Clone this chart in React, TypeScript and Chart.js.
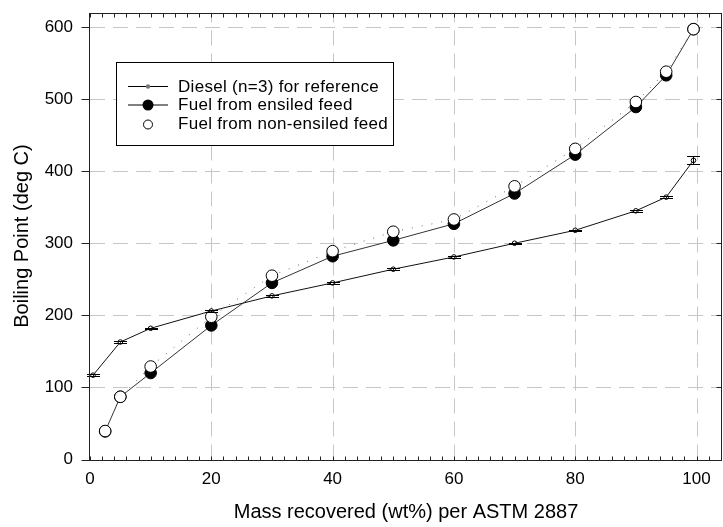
import React, { useEffect, useRef } from 'react';
import { Chart, registerables } from 'chart.js';

Chart.register(...registerables);

// ---- Data ----
const xDiesel = [0.5, 5, 10, 20, 30, 40, 50, 60, 70, 80, 90, 95, 99.5];
const yDiesel = [117, 163, 182, 206, 227, 245, 264, 281, 300, 318, 345, 364, 415];
const errDiesel = [1, 1, 1, 1.5, 1, 1, 1, 1, 1, 1, 1, 1, 5.5];

const xFuel = [2.5, 5, 10, 20, 30, 40, 50, 60, 70, 80, 90, 95, 99.5];
const yEnsiled = [39, 87, 120, 186, 245, 282, 304, 327, 369, 423, 489, 533, 597];
const yNonEnsiled = [39.5, 87, 129, 198, 255, 289, 316, 333, 379, 431, 496, 538, 597];

const xTicks = [0, 20, 40, 60, 80, 100];
const yTicks = [0, 100, 200, 300, 400, 500, 600];
const xMinorStep = 2;

const seriesNames = [
  'Diesel (n=3) for reference',
  'Fuel from ensiled feed',
  'Fuel from non-ensiled feed',
];
const xTitle = 'Mass recovered (wt%) per ASTM 2887';
const yTitle = 'Boiling Point (deg C)';

const FONT = '"Liberation Sans", Arial, sans-serif';

const toPoints = (xs: number[], ys: number[]) => xs.map((x, i) => ({ x, y: ys[i] }));

const gridFramePlugin = {
  id: 'gridFrame',
  beforeDatasetsDraw(chart: any) {
    const { ctx, chartArea: a, scales } = chart;
    const x = scales.x;
    const y = scales.y;
    ctx.save();
    ctx.strokeStyle = '#c6c6c6';
    ctx.lineWidth = 1;
    ctx.setLineDash([15, 8]);
    for (const v of xTicks) {
      if (v <= 0) continue;
      const px = Math.round(x.getPixelForValue(v)) + 0.5;
      ctx.beginPath();
      ctx.moveTo(px, a.bottom);
      ctx.lineTo(px, a.top);
      ctx.stroke();
    }
    for (const v of yTicks) {
      if (v <= 0) continue;
      const py = Math.round(y.getPixelForValue(v)) + 0.5;
      ctx.beginPath();
      ctx.moveTo(a.left, py);
      ctx.lineTo(a.right, py);
      ctx.stroke();
    }
    ctx.restore();
  },
  afterDatasetsDraw(chart: any) {
    const { ctx, chartArea: a, scales } = chart;
    const x = scales.x;
    const y = scales.y;
    const L = Math.round(a.left) - 0.5;
    const R = Math.round(a.right) - 0.5;
    const T = Math.round(a.top) + 0.5;
    const B = Math.round(a.bottom) + 0.5;
    ctx.save();
    ctx.strokeStyle = '#000';
    ctx.lineWidth = 1;
    ctx.setLineDash([]);
    // error bars for diesel
    const meta = chart.getDatasetMeta(0);
    meta.data.forEach((pt: any, i: number) => {
      const px = Math.round(pt.x) + 0.5;
      const yt = y.getPixelForValue(yDiesel[i] + errDiesel[i]);
      const yb = y.getPixelForValue(yDiesel[i] - errDiesel[i]);
      ctx.beginPath();
      ctx.moveTo(px, yt);
      ctx.lineTo(px, yb);
      ctx.moveTo(px - 6.5, Math.round(yt) + 0.5);
      ctx.lineTo(px + 6.5, Math.round(yt) + 0.5);
      ctx.moveTo(px - 6.5, Math.round(yb) + 0.5);
      ctx.lineTo(px + 6.5, Math.round(yb) + 0.5);
      ctx.stroke();
    });
    // frame
    ctx.strokeStyle = '#222';
    ctx.strokeRect(L, T, R - L, B - T);
    // minor ticks top & bottom
    ctx.beginPath();
    for (let v = 0; v <= x.max; v += xMinorStep) {
      const px = Math.round(x.getPixelForValue(v)) + 0.5;
      ctx.moveTo(px, B);
      ctx.lineTo(px, B - 4);
      ctx.moveTo(px, T);
      ctx.lineTo(px, T + 4);
    }
    // y major ticks: left outward, right inward
    for (const v of yTicks) {
      const py = Math.round(y.getPixelForValue(v)) + 0.5;
      ctx.moveTo(L - 8, py);
      ctx.lineTo(L, py);
      ctx.moveTo(R, py);
      ctx.lineTo(R - 5, py);
    }
    ctx.stroke();
    ctx.restore();
  },
};

const legendPlugin = {
  id: 'boxLegend',
  afterDraw(chart: any) {
    const { ctx } = chart;
    const box = { l: 116.5, t: 62.5, r: 393.5, b: 145.5 };
    ctx.save();
    ctx.fillStyle = '#fff';
    ctx.fillRect(box.l, box.t, box.r - box.l, box.b - box.t);
    ctx.strokeStyle = '#000';
    ctx.lineWidth = 1;
    ctx.strokeRect(box.l, box.t, box.r - box.l, box.b - box.t);
    const rows = [86, 104.5, 124];
    const symX = 148;
    // row 1: diesel
    ctx.beginPath();
    ctx.moveTo(128, rows[0] + 0.5);
    ctx.lineTo(168, rows[0] + 0.5);
    ctx.stroke();
    ctx.fillStyle = '#777';
    ctx.beginPath();
    ctx.arc(symX, rows[0] + 0.5, 2.2, 0, Math.PI * 2);
    ctx.fill();
    // row 2: ensiled
    ctx.beginPath();
    ctx.moveTo(128, rows[1] + 0.5);
    ctx.lineTo(168, rows[1] + 0.5);
    ctx.stroke();
    ctx.fillStyle = '#000';
    ctx.beginPath();
    ctx.arc(symX, rows[1] + 0.5, 5.5, 0, Math.PI * 2);
    ctx.fill();
    // row 3: non-ensiled
    ctx.fillStyle = '#fff';
    ctx.beginPath();
    ctx.arc(symX, rows[2] + 0.5, 4.5, 0, Math.PI * 2);
    ctx.fill();
    ctx.stroke();
    // text
    ctx.fillStyle = '#000';
    ctx.font = `17px ${FONT}`;
    try { (ctx as any).letterSpacing = '0.3px'; } catch (e) { /* ignore */ }
    ctx.textAlign = 'left';
    ctx.textBaseline = 'alphabetic';
    const baselines = [91.5, 110, 129];
    seriesNames.forEach((name, i) => ctx.fillText(name, 178, baselines[i]));
    ctx.restore();
  },
};

export default function App() {
  const canvasRef = useRef<HTMLCanvasElement | null>(null);

  useEffect(() => {
    if (!canvasRef.current) return;
    const chart = new Chart(canvasRef.current, {
      type: 'line',
      data: {
        datasets: [
          {
            label: seriesNames[0],
            data: toPoints(xDiesel, yDiesel),
            borderColor: '#111',
            borderWidth: 1,
            pointRadius: 2.3,
            pointBackgroundColor: '#fff',
            pointBorderColor: '#000',
            pointBorderWidth: 1,
            order: 2,
          },
          {
            label: seriesNames[1],
            data: toPoints(xFuel, yEnsiled),
            borderColor: '#333',
            borderWidth: 1,
            pointRadius: 5.8,
            pointBackgroundColor: '#000',
            pointBorderColor: '#000',
            pointBorderWidth: 1,
            order: 1,
          },
          {
            label: seriesNames[2],
            data: toPoints(xFuel, yNonEnsiled),
            borderColor: '#666',
            borderWidth: 1,
            borderDash: [1, 9],
            pointRadius: 5.8,
            pointBackgroundColor: '#fff',
            pointBorderColor: '#000',
            pointBorderWidth: 1,
            order: 0,
          },
        ],
      },
      options: {
        animation: false,
        responsive: true,
        maintainAspectRatio: false,
        layout: { autoPadding: false, padding: { top: 12.6, right: 1, left: 0, bottom: 0 } },
        plugins: {
          legend: { display: false },
          tooltip: { enabled: false },
        },
        scales: {
          x: {
            type: 'linear',
            min: 0,
            max: 104.2,
            afterBuildTicks: (s: any) => {
              s.ticks = xTicks.map((v) => ({ value: v }));
            },
            afterFit: (s: any) => {
              s.height = 67.5;
              s.paddingLeft = 0;
              s.paddingRight = 0;
              s.paddingTop = 0;
              s.paddingBottom = 0;
            },
            grid: { display: false, drawTicks: false },
            border: { display: false },
            ticks: {
              color: '#000',
              padding: 0,
              maxRotation: 0,
              font: { family: FONT, size: 17, lineHeight: '40px' },
            },
            title: {
              display: true,
              text: xTitle,
              color: '#000',
              font: { family: FONT, size: 20 },
              padding: { top: 0, bottom: 3 },
            },
          },
          y: {
            type: 'linear',
            min: 0,
            max: 620,
            afterBuildTicks: (s: any) => {
              s.ticks = yTicks.map((v) => ({ value: v }));
            },
            afterFit: (s: any) => {
              s.width = 90;
              s.paddingLeft = 0;
              s.paddingRight = 0;
              s.paddingTop = 0;
              s.paddingBottom = 0;
            },
            grid: { display: false, drawTicks: false },
            border: { display: false },
            ticks: {
              color: '#000',
              padding: 17,
              font: { family: FONT, size: 17 },
            },
            title: {
              display: true,
              text: yTitle,
              color: '#000',
              font: { family: FONT, size: 20 },
              padding: { top: 10, bottom: 0 },
            },
          },
        },
      },
      plugins: [gridFramePlugin, legendPlugin],
    });
    return () => chart.destroy();
  }, []);

  return (
    <div style={{ position: 'fixed', left: 0, top: 0, width: 723, height: 527, background: '#fff' }}>
      <canvas ref={canvasRef} />
    </div>
  );
}
